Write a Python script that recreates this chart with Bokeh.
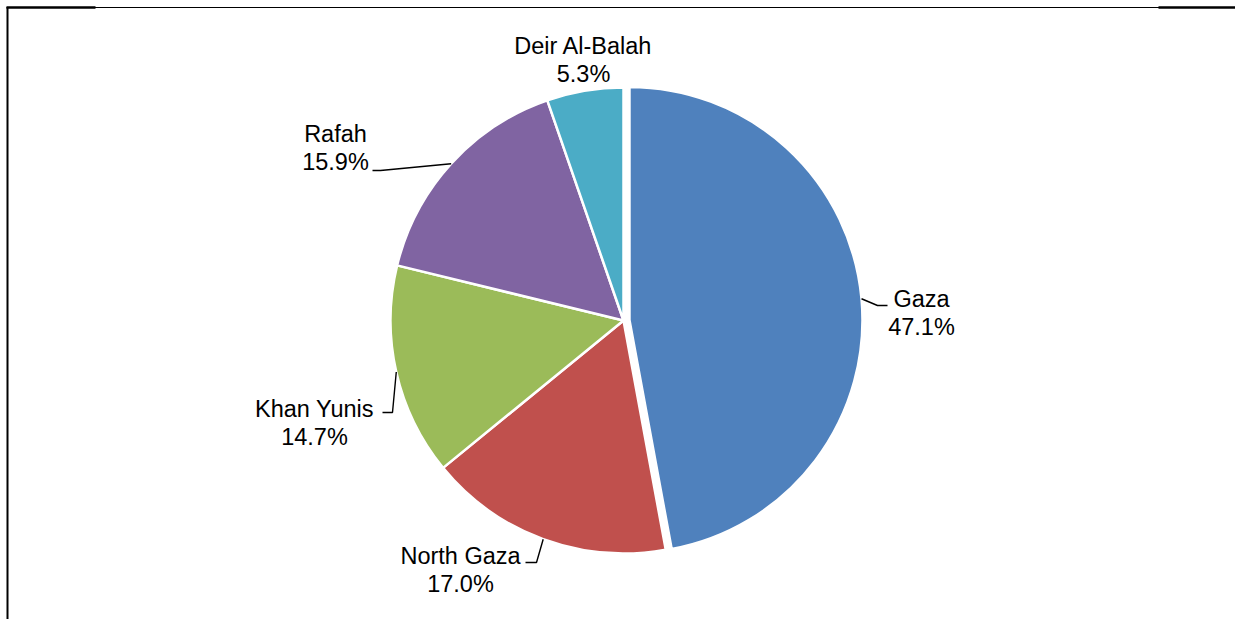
import math
from bokeh.plotting import figure
from bokeh.models import Range1d, ColumnDataSource
from bokeh.core.properties import value
from bokeh.embed import file_html
from bokeh.resources import INLINE

# ---- data ----
categories = ["Gaza", "North Gaza", "Khan Yunis", "Rafah", "Deir Al-Balah"]
shares = [47.1, 17.0, 14.7, 15.9, 5.3]
pct_labels = ["47.1%", "17.0%", "14.7%", "15.9%", "5.3%"]

# ---- styles / layout (pixel coordinates, origin top-left) ----
colors = ["#4F81BD", "#C0504D", "#9BBB59", "#8064A2", "#4BACC6"]
explode_px = [6, 0, 0, 0, 0]
W, H = 1235, 619
CX, CY, R = 623, 320, 233
LINE_GAP = 28
TEXT_SHIFT = -8
label_anchor = {  # center x, baseline of first line
    "Gaza": (921, 306),
    "North Gaza": (460, 563),
    "Khan Yunis": (314, 416),
    "Rafah": (335, 141),
    "Deir Al-Balah": (583, 53),
}
leader_tick = {  # (outer end, elbow)
    "Gaza": ((887, 305), (877, 305)),
    "North Gaza": ((525, 562), (536, 562)),
    "Khan Yunis": ((382, 412), (392, 412)),
    "Rafah": ((372, 170), (380, 170)),
}


def Y(py):
    return H - py


p = figure(width=W, height=H, output_backend="svg", toolbar_location=None,
           x_range=Range1d(0, W), y_range=Range1d(0, H),
           min_border=0, min_border_left=0, min_border_right=0,
           min_border_top=0, min_border_bottom=0)
p.axis.visible = False
p.grid.visible = False
p.outline_line_color = None
p.background_fill_color = "white"
p.border_fill_color = "white"

total = sum(shares)
cum = 0.0
xs, ys, starts, ends, mids = [], [], [], [], []
for s, e in zip(shares, explode_px):
    t1 = cum / total * 360.0
    cum += s
    t2 = cum / total * 360.0
    tm = math.radians((t1 + t2) / 2)
    cx = CX + e * math.sin(tm)
    cy = CY - e * math.cos(tm)
    xs.append(cx)
    ys.append(Y(cy))
    starts.append(math.radians(90 - t2))
    ends.append(math.radians(90 - t1))
    mids.append((cx, cy, tm))

src = ColumnDataSource(dict(x=xs, y=ys, start=starts, end=ends, color=colors, cat=categories))
p.wedge(x="x", y="y", radius=R, start_angle="start", end_angle="end",
        direction="anticlock", fill_color="color", line_color="white",
        line_width=2.5, source=src)

# leader lines
for cat, (cx, cy, tm) in zip(categories, mids):
    if cat not in leader_tick:
        continue
    ex = cx + R * math.sin(tm)
    ey = cy - R * math.cos(tm)
    (ox, oy), (bx, by) = leader_tick[cat]
    p.line([ex, bx, ox], [Y(ey), Y(by), Y(oy)], line_color="black", line_width=1.4)

# labels
tx, ty1, ty2 = [], [], []
for cat in categories:
    ax, ay = label_anchor[cat]
    ay += TEXT_SHIFT
    tx.append(ax)
    ty1.append(Y(ay))
    ty2.append(Y(ay + LINE_GAP))
lab = ColumnDataSource(dict(x=tx, y1=ty1, y2=ty2, name=categories, pct=pct_labels))
for ycol, tcol in (("y1", "name"), ("y2", "pct")):
    p.text(x="x", y=ycol, text=tcol, source=lab, text_align="center",
           text_baseline="alphabetic", text_font=value("Liberation Sans"),
           text_font_size="23.5px", text_color="black")

# frame border (left and top) with heavier end segments at top
p.line([7, 7], [0, Y(7)], line_color="black", line_width=2)
p.line([6, W], [Y(7), Y(7)], line_color="black", line_width=1)
p.line([6, 95], [Y(7), Y(7)], line_color="black", line_width=2.5)
p.line([1158, W], [Y(7), Y(7)], line_color="black", line_width=2.5)

open("out.html", "w").write(file_html(p, INLINE))
